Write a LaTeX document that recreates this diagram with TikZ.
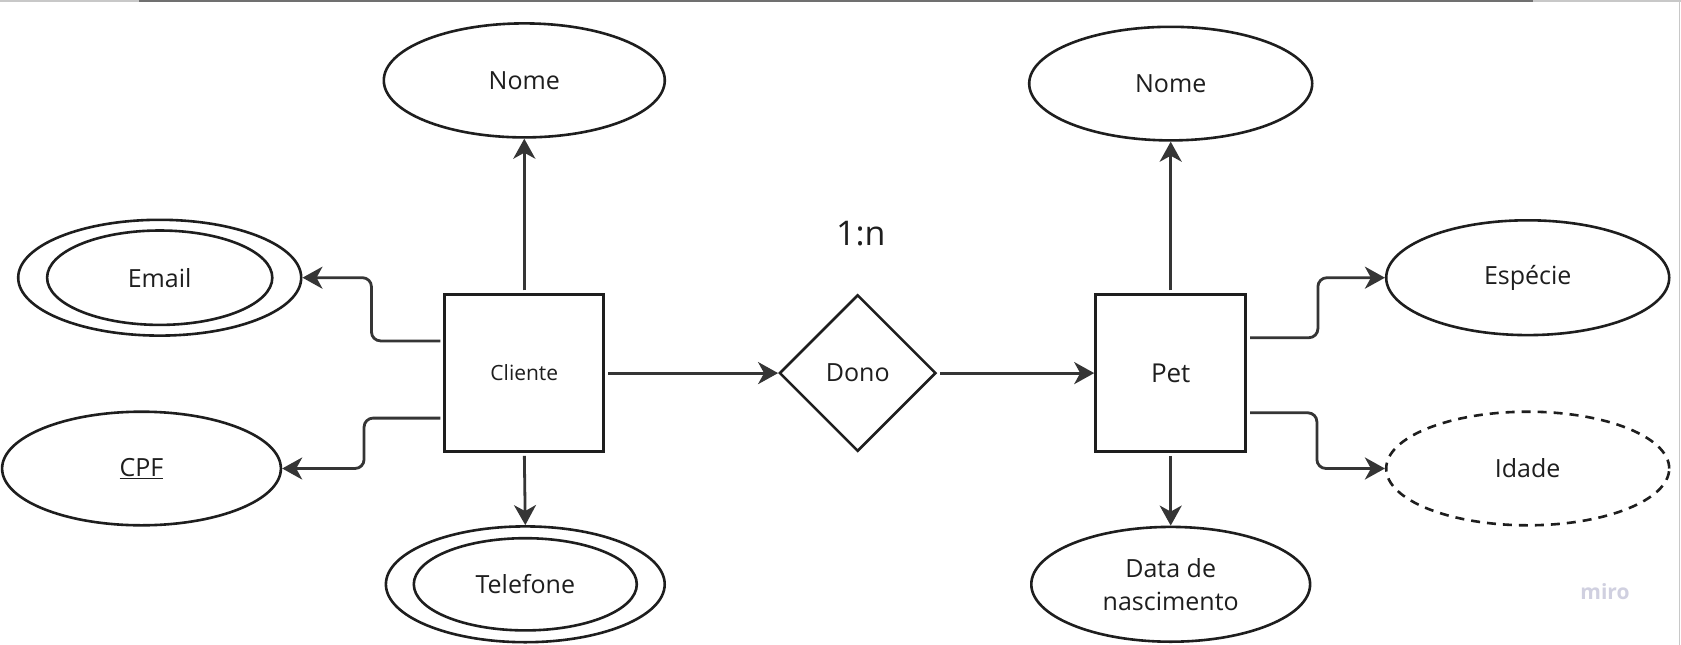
\documentclass[tikz,border=0pt]{standalone}
\usepackage{fontspec}
\setmainfont{Open Sans}
\usetikzlibrary{shapes.geometric,arrows.meta}
\definecolor{ink}{HTML}{1E1E1E}
\definecolor{conncol}{HTML}{353535}
\definecolor{mirocol}{HTML}{D0D0E0}
\definecolor{edgelight}{HTML}{C8C8C8}
\definecolor{edgedark}{HTML}{707070}
\tikzset{
  attr/.style={ellipse, draw=ink, line width=2.6pt, inner sep=0pt,
    minimum width=281pt, minimum height=114pt, text=ink,
    font=\fontsize{25}{33}\selectfont},
  innerattr/.style={ellipse, draw=ink, line width=2.6pt, inner sep=0pt,
    text=ink, font=\fontsize{25}{33}\selectfont},
  entbox/.style={rectangle, draw=ink, line width=3pt, inner sep=0pt,
    minimum height=156.5pt, text=ink},
  relbox/.style={diamond, draw=ink, line width=2.6pt, inner sep=0pt, aspect=1,
    minimum width=156.6pt, minimum height=156.6pt, text=ink,
    font=\fontsize{25}{30}\selectfont},
  conn/.style={draw=conncol, line width=2.8pt, shorten <=3pt,
    -{Stealth[length=20pt,width=22pt,inset=6pt]}},
  elbowconn/.style={conn, rounded corners=9pt},
}
\begin{document}
\begin{tikzpicture}[x=1pt,y=-1pt]
\useasboundingbox (0,0) rectangle (1681,645);
\fill[white] (0,0) rectangle (1681,645);
% screenshot border lines
\draw[edgelight, line width=1.6pt] (0,0.8) -- (139,0.8);
\draw[edgedark, line width=1.6pt] (139,0.8) -- (1533,0.8);
\draw[edgelight, line width=1.6pt] (1533,0.8) -- (1681,0.8);
\draw[edgelight, line width=1.2pt] (1679.6,0) -- (1679.6,645);

% entities and relationship
\node[entbox, minimum width=158.7pt, font=\fontsize{21}{26}\selectfont] (cliente) at (524.3,373.1) {Cliente};
\node[entbox, minimum width=150pt, font=\fontsize{26}{30}\selectfont] (pet) at (1170.7,373.1) {Pet};
\node[relbox] (dono) at (857.7,373.1) {Dono};
\node[text=ink, font=\fontsize{34}{40}\selectfont] (card) at (860.9,233.7) {1:n};

% Cliente attributes
\node[attr] (nome1) at (524.3,80.4) {Nome};
\node[attr, minimum width=283pt, minimum height=115.8pt] (emailo) at (159.7,277.7) {};
\node[innerattr, minimum width=225.2pt, minimum height=94.4pt] (email) at (159.7,277.7) {Email};
\node[attr, minimum width=278.8pt, minimum height=113.6pt] (cpf) at (141.5,468.5) {\underline{CPF}};
\node[attr, minimum width=278.8pt, minimum height=115.8pt] (telo) at (525.3,584.3) {};
\node[innerattr, minimum width=223pt, minimum height=92.2pt] (tel) at (525.3,584.3) {Telefone};

% Pet attributes
\node[attr, minimum width=283pt, minimum height=113.6pt] (nome2) at (1170.7,83.6) {Nome};
\node[attr, minimum width=283pt, minimum height=114.8pt] (especie) at (1527.7,277.7) {Espécie};
\node[attr, minimum width=283pt, minimum height=113.6pt, dash pattern=on 9pt off 7pt] (idade) at (1527.7,468.5) {Idade};
\node[attr, minimum width=278.8pt, minimum height=114.8pt, align=center] (data) at (1170.7,584.3) {Data de\\nascimento};

% watermark
\node[text=mirocol, font=\fontsize{21}{26}\selectfont\bfseries] (miro) at (1605,592) {miro};

% connectors
\draw[conn] (cliente.north) -- (nome1.south);
\draw[conn] (cliente.south) -- (telo.north);
\draw[conn] (cliente.east) -- (dono.west);
\draw[conn] (dono.east) -- (pet.west);
\draw[conn] (pet.north) -- (nome2.south);
\draw[conn] (pet.south) -- (data.north);
\draw[elbowconn] ([yshift=32.2pt]cliente.west) -- ++(-72,0) |- (emailo.east);
\draw[elbowconn] ([yshift=-45pt]cliente.west) -- ++(-79.4,0) |- (cpf.east);
\draw[elbowconn] ([yshift=35.4pt]pet.east) -- ++(70.7,0) |- (especie.west);
\draw[elbowconn] ([yshift=-39.7pt]pet.east) -- ++(69.7,0) |- (idade.west);
\end{tikzpicture}
\end{document}
